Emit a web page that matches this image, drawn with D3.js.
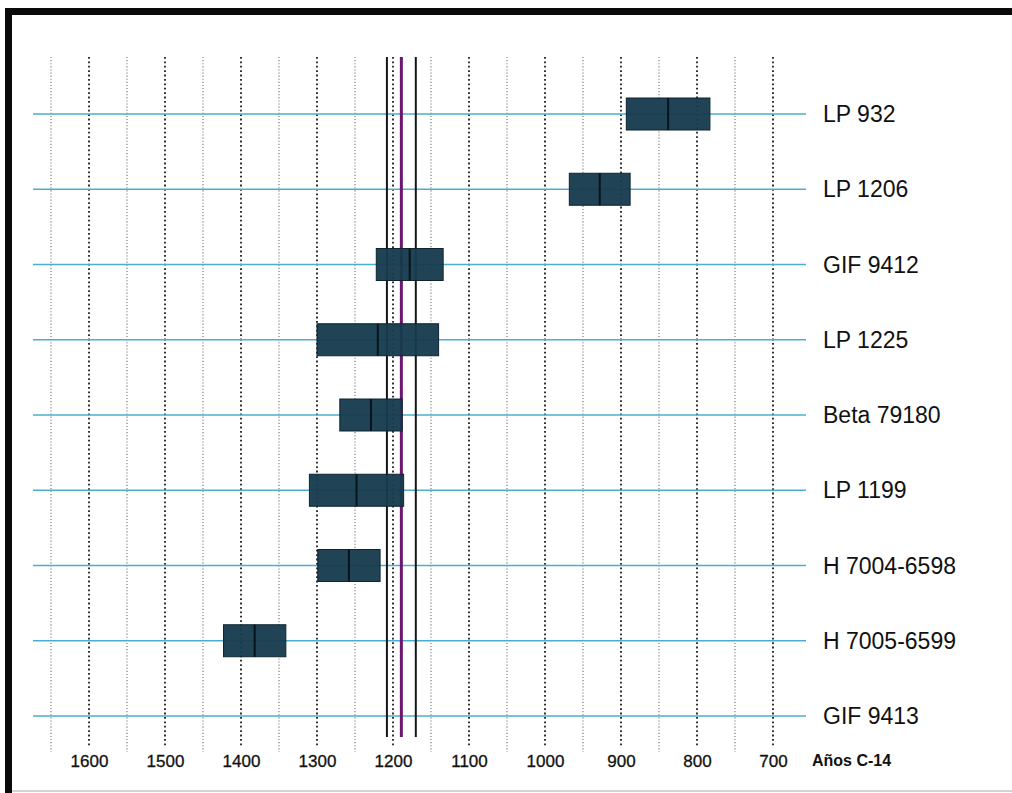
<!DOCTYPE html>
<html>
<head>
<meta charset="utf-8">
<script src="https://cdn.jsdelivr.net/npm/d3@7/dist/d3.min.js"></script>
<style>
  html, body { margin: 0; padding: 0; background: #fff; }
  svg { display: block; font-family: "Liberation Sans", Arial, sans-serif; }
</style>
</head>
<body>
<svg id="chart" width="1012" height="793"></svg>
<script>
// Radiocarbon samples (uncalibrated years, 1 sigma ranges)
const samples = ["LP 932", "LP 1206", "GIF 9412", "LP 1225", "Beta 79180",
                 "LP 1199", "H 7004-6598", "H 7005-6599", "GIF 9413"];
const ages    = [838, 928, 1178, 1220, 1229, 1248, 1258, 1382, null];
const sigmas  = [55, 40, 44, 80, 41, 62, 41, 41, null];

// Pooled mean and its 1 sigma band
const pooledMean = 1189;
const pooledSigma = 19;

// Axis ticks and grid lines
const tickLabels = [1600, 1500, 1400, 1300, 1200, 1100, 1000, 900, 800, 700];
const gridValues = [1650, 1600, 1550, 1500, 1450, 1400, 1350, 1300, 1250, 1200,
                    1150, 1100, 1050, 1000, 950, 900, 850, 800, 750, 700];
const axisTitle = "Años C-14";

const svg = d3.select("#chart");

const x = d3.scaleLinear().domain([1650, 700]).range([51, 773]);
const y = d3.scalePoint().domain(samples).range([114, 716]);

const gridTop = 57, gridBottom = 750;

// frame
svg.append("line").attr("x1", 5).attr("x2", 1012).attr("y1", 11.5).attr("y2", 11.5)
  .attr("stroke", "#0a0a0a").attr("stroke-width", 7);
svg.append("line").attr("x1", 8.5).attr("x2", 8.5).attr("y1", 8).attr("y2", 793)
  .attr("stroke", "#0a0a0a").attr("stroke-width", 7);
svg.append("line").attr("x1", 12).attr("x2", 1012).attr("y1", 791).attr("y2", 791)
  .attr("stroke", "#c4c4c4").attr("stroke-width", 1.5);

// dotted vertical grid
svg.append("g").selectAll("line").data(gridValues).join("line")
  .attr("x1", d => x(d)).attr("x2", d => x(d))
  .attr("y1", gridTop)
  .attr("y2", d => d % 100 === 0 ? gridBottom - 3 : gridBottom + 2)
  .attr("stroke", d => d % 100 === 0 ? "#1e1e1e" : "#7a7a7a")
  .attr("stroke-width", d => d % 100 === 0 ? 1.8 : 1.2)
  .attr("stroke-dasharray", d => d % 100 === 0 ? "1.8,2.6" : "1.1,2");

// sample baselines
svg.append("g").selectAll("line").data(samples).join("line")
  .attr("x1", x(1650) - 18).attr("x2", x(700) + 33)
  .attr("y1", d => y(d)).attr("y2", d => y(d))
  .attr("stroke", "#4aaed2").attr("stroke-width", 1.6);

// pooled mean lines
const refLines = [pooledMean + pooledSigma, pooledMean - pooledSigma];
svg.append("g").selectAll("line").data(refLines).join("line")
  .attr("x1", d => x(d)).attr("x2", d => x(d))
  .attr("y1", gridTop).attr("y2", 737)
  .attr("stroke", "#151515").attr("stroke-width", 2);
svg.append("line")
  .attr("x1", x(pooledMean)).attr("x2", x(pooledMean))
  .attr("y1", gridTop).attr("y2", 737)
  .attr("stroke", "#6b1670").attr("stroke-width", 3);

// sample bars (mean ± 1 sigma)
const rows = samples.map((s, i) => ({ name: s, age: ages[i], sigma: sigmas[i] }))
  .filter(d => d.age != null);
const barH = 32;
const bars = svg.append("g").selectAll("g").data(rows).join("g");
bars.append("rect")
  .attr("x", d => x(d.age + d.sigma))
  .attr("width", d => x(d.age - d.sigma) - x(d.age + d.sigma))
  .attr("y", d => y(d.name) - barH / 2)
  .attr("height", barH)
  .attr("fill", "#173b4e")
  .attr("fill-opacity", 0.96)
  .attr("stroke", "#0e2430").attr("stroke-width", 1);
bars.append("line")
  .attr("x1", d => x(d.age)).attr("x2", d => x(d.age))
  .attr("y1", d => y(d.name) - barH / 2).attr("y2", d => y(d.name) + barH / 2)
  .attr("stroke", "#08141b").attr("stroke-width", 2);

// sample names
svg.append("g").selectAll("text").data(samples).join("text")
  .attr("x", 823).attr("y", d => y(d) + 8)
  .attr("font-size", 23).attr("fill", "#111")
  .text(d => d);

// bottom axis labels
const axis = d3.axisBottom(x).tickValues(tickLabels).tickSize(0).tickPadding(0)
  .tickFormat(d3.format("d"));
const gAxis = svg.append("g").attr("transform", "translate(0,767)").call(axis);
gAxis.select(".domain").remove();
gAxis.selectAll("text")
  .attr("dy", 0).attr("y", 0)
  .attr("font-size", 17).attr("font-family", "Liberation Sans, Arial, sans-serif")
  .attr("fill", "#111").attr("stroke", "#111").attr("stroke-width", 0.3);

svg.append("text").attr("x", 812).attr("y", 766)
  .attr("font-size", 16).attr("font-weight", "bold").attr("fill", "#111")
  .text(axisTitle);
</script>
</body>
</html>
